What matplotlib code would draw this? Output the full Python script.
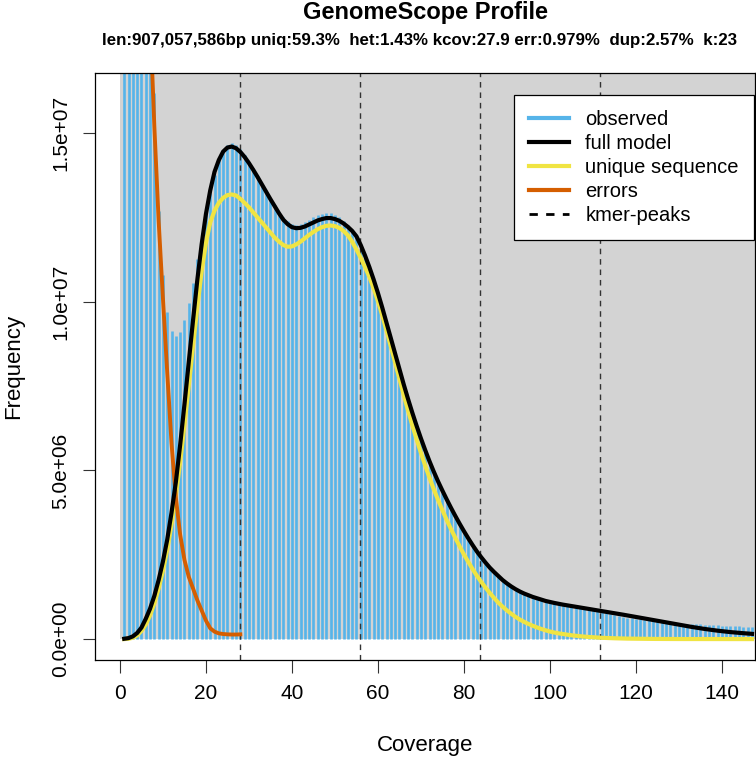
import matplotlib
matplotlib.use('Agg')

import matplotlib.pyplot as plt
from matplotlib.patches import Rectangle
from matplotlib.lines import Line2D

plt.rcParams['font.family'] = ['Liberation Sans', 'DejaVu Sans']

# --- data (coverage 1..147) ---
coverage = list(range(1, 148))

observed = [
    6.2e8, 9.5e7, 4.6e7, 3.2e7, 2.6e7, 2.2e7, 1.9e7, 1.62e7, 1.27e7, 1.08e7,
    9.7e6, 9.13e6, 8.98e6, 9.1e6, 9.46e6, 9.96e6, 1.055e7, 1.126e7, 1.192e7, 1.263e7,
    1.322e7, 1.375e7, 1.42e7, 1.449e7, 1.464e7, 1.47e7, 1.464e7, 1.452e7, 1.435e7, 1.415e7,
    1.395e7, 1.373e7, 1.35e7, 1.328e7, 1.306e7, 1.286e7, 1.267e7, 1.25e7, 1.238e7, 1.231e7,
    1.228e7, 1.23e7, 1.235e7, 1.242e7, 1.25e7, 1.256e7, 1.261e7, 1.264e7, 1.263e7, 1.258e7,
    1.25e7, 1.24e7, 1.228e7, 1.213e7, 1.195e7, 1.165e7, 1.133e7, 1.098e7, 1.06e7, 1.02e7,
    9.77e6, 9.32e6, 8.86e6, 8.40e6, 7.94e6, 7.49e6, 7.06e6, 6.65e6, 6.26e6, 5.89e6,
    5.54e6, 5.21e6, 4.90e6, 4.61e6, 4.34e6, 4.08e6, 3.83e6, 3.59e6, 3.37e6, 3.15e6,
    2.94e6, 2.75e6, 2.57e6, 2.40e6, 2.24e6, 2.10e6, 1.97e6, 1.85e6, 1.74e6, 1.64e6,
    1.55e6, 1.47e6, 1.40e6, 1.34e6, 1.29e6, 1.24e6, 1.20e6, 1.16e6, 1.12e6, 1.09e6,
    1.06e6, 1.03e6, 1.01e6, 9.9e5, 9.7e5, 9.5e5, 9.3e5, 9.1e5, 8.9e5, 8.6e5,
    8.35e5, 8.0e5, 7.7e5, 7.4e5, 7.1e5, 6.8e5, 6.55e5, 6.35e5, 6.15e5, 6.0e5,
    5.85e5, 5.7e5, 5.55e5, 5.4e5, 5.25e5, 5.1e5, 4.95e5, 4.85e5, 4.75e5, 4.65e5,
    4.6e5, 4.55e5, 4.5e5, 4.45e5, 4.4e5, 4.3e5, 4.2e5, 4.15e5, 4.1e5, 4.0e5,
    3.95e5, 3.9e5, 3.8e5, 3.75e5, 3.7e5, 3.65e5, 3.6e5,
]

full_model = [
    1.0e4, 3.0e4, 8.0e4, 1.8e5, 3.4e5, 6.0e5, 9.0e5, 1.28e6, 1.75e6, 2.3e6,
    2.95e6, 3.75e6, 4.65e6, 5.75e6, 6.95e6, 8.2e6, 9.45e6, 1.065e7, 1.17e7, 1.26e7,
    1.33e7, 1.385e7, 1.42e7, 1.445e7, 1.457e7, 1.46e7, 1.455e7, 1.444e7, 1.429e7, 1.411e7,
    1.391e7, 1.37e7, 1.348e7, 1.326e7, 1.304e7, 1.283e7, 1.262e7, 1.243e7, 1.23e7, 1.221e7,
    1.218e7, 1.219e7, 1.223e7, 1.229e7, 1.235e7, 1.241e7, 1.245e7, 1.248e7, 1.248e7, 1.245e7,
    1.24e7, 1.232e7, 1.222e7, 1.21e7, 1.194e7, 1.168e7, 1.137e7, 1.103e7, 1.066e7, 1.026e7,
    9.83e6, 9.38e6, 8.92e6, 8.46e6, 8.00e6, 7.55e6, 7.12e6, 6.71e6, 6.32e6, 5.95e6,
    5.60e6, 5.27e6, 4.96e6, 4.67e6, 4.40e6, 4.14e6, 3.89e6, 3.65e6, 3.42e6, 3.20e6,
    2.99e6, 2.79e6, 2.60e6, 2.43e6, 2.27e6, 2.12e6, 1.99e6, 1.87e6, 1.75e6, 1.65e6,
    1.56e6, 1.48e6, 1.41e6, 1.35e6, 1.30e6, 1.25e6, 1.21e6, 1.17e6, 1.13e6, 1.10e6,
    1.072e6, 1.046e6, 1.022e6, 1.0e6, 9.79e5, 9.58e5, 9.37e5, 9.16e5, 8.95e5, 8.74e5,
    8.53e5, 8.32e5, 8.11e5, 7.9e5, 7.68e5, 7.46e5, 7.24e5, 7.02e5, 6.8e5, 6.57e5,
    6.34e5, 6.11e5, 5.88e5, 5.65e5, 5.42e5, 5.19e5, 4.96e5, 4.73e5, 4.5e5, 4.27e5,
    4.04e5, 3.82e5, 3.6e5, 3.39e5, 3.19e5, 3.0e5, 2.82e5, 2.65e5, 2.49e5, 2.34e5,
    2.2e5, 2.07e5, 1.95e5, 1.84e5, 1.74e5, 1.64e5, 1.55e5,
]

unique_seq = [
    0.0, 1e4, 4e4, 1.1e5, 2.4e5, 4.3e5, 7.0e5, 1.06e6, 1.5e6, 2.03e6,
    2.65e6, 3.4e6, 4.25e6, 5.25e6, 6.35e6, 7.5e6, 8.7e6, 9.85e6, 1.09e7, 1.175e7,
    1.235e7, 1.27e7, 1.293e7, 1.308e7, 1.316e7, 1.318e7, 1.315e7, 1.305e7, 1.293e7, 1.28e7,
    1.265e7, 1.25e7, 1.235e7, 1.22e7, 1.205e7, 1.19e7, 1.178e7, 1.168e7, 1.163e7, 1.164e7,
    1.17e7, 1.178e7, 1.188e7, 1.198e7, 1.207e7, 1.215e7, 1.221e7, 1.225e7, 1.226e7, 1.224e7,
    1.219e7, 1.21e7, 1.197e7, 1.178e7, 1.155e7, 1.13e7, 1.103e7, 1.074e7, 1.04e7, 1.002e7,
    9.6e6, 9.15e6, 8.68e6, 8.2e6, 7.72e6, 7.24e6, 6.78e6, 6.34e6, 5.92e6, 5.52e6,
    5.14e6, 4.78e6, 4.44e6, 4.12e6, 3.82e6, 3.53e6, 3.26e6, 3.00e6, 2.75e6, 2.51e6,
    2.29e6, 2.08e6, 1.88e6, 1.70e6, 1.53e6, 1.37e6, 1.22e6, 1.08e6, 9.6e5, 8.5e5,
    7.5e5, 6.6e5, 5.8e5, 5.1e5, 4.5e5, 3.95e5, 3.45e5, 3.0e5, 2.6e5, 2.25e5,
    1.95e5, 1.7e5, 1.5e5, 1.3e5, 1.13e5, 9.8e4, 8.5e4, 7.3e4, 6.3e4, 5.4e4,
    4.6e4, 3.9e4, 3.3e4, 2.8e4, 2.4e4, 2.0e4, 1.7e4, 1.4e4, 1.2e4, 1.0e4,
    8e3, 7e3, 6e3, 5e3, 4e3, 3.5e3, 3e3, 2.5e3, 2e3, 1.7e3,
    1.4e3, 1.2e3, 1e3, 800, 700, 600, 500, 400, 350, 300,
    250, 200, 170, 140, 120, 100, 80,
]

error_cov = list(range(1, 29))
errors = [
    8.0e8, 1.4e8, 6.5e7, 4.0e7, 2.9e7, 2.3e7, 1.85e7, 1.52e7, 1.24e7, 1.01e7,
    7.9e6, 5.8e6, 4.2e6, 3.1e6, 2.35e6, 1.85e6, 1.5e6, 1.15e6, 8.5e5, 5.5e5,
    3.2e5, 2.2e5, 1.7e5, 1.5e5, 1.4e5, 1.35e5, 1.35e5, 1.4e5,
]

kcov = 27.9
kmer_peaks = [kcov * 1, kcov * 2, kcov * 3, kcov * 4]

yticks = [0, 5e6, 1e7, 1.5e7]
ytick_labels = ["0.0e+00", "5.0e+06", "1.0e+07", "1.5e+07"]
xticks = [0, 20, 40, 60, 80, 100, 120, 140]

title = "GenomeScope Profile"
subtitle = "len:907,057,586bp uniq:59.3%  het:1.43% kcov:27.9 err:0.979%  dup:2.57%  k:23"

COL_OBS = "#56B4E9"
COL_ERR = "#D55E00"
COL_UNIQ = "#F0E442"

fig = plt.figure(figsize=(7.56, 7.58), dpi=100)
ax = fig.add_axes([95 / 756, 98 / 758, 660 / 756, 587 / 758])

xmin, xmax = -5.8, 147.7
ymin, ymax = -6.2e5, 1.678e7
ax.set_xlim(xmin, xmax)
ax.set_ylim(ymin, ymax)

# grey plotting region (data range only)
ax.add_patch(Rectangle((0, 0), xmax + 10, ymax * 2, facecolor="#D3D3D3",
                       edgecolor="none", zorder=0))

ax.vlines(coverage, 0, observed, colors=COL_OBS, linewidth=1.9, zorder=1,
          capstyle='butt')

for p in kmer_peaks:
    ax.axvline(p, color="#333333", linestyle=(0, (4, 3.5)), linewidth=1.0, zorder=2)

ax.plot(coverage, full_model, color="black", linewidth=3.0, zorder=4)
ax.plot(coverage, unique_seq, color=COL_UNIQ, linewidth=3.0, zorder=3)
ax.plot(error_cov, errors, color=COL_ERR, linewidth=2.8, zorder=3)

# axes styling
for s in ax.spines.values():
    s.set_color("black")
    s.set_linewidth(0.9)
    s.set_zorder(5)

ax.set_xticks(xticks)
ax.set_yticks(yticks)
ax.set_yticklabels(ytick_labels, rotation=90, va='center')
ax.tick_params(axis='both', direction='out', length=9, width=0.8, labelsize=15,
               colors="#333333", labelcolor="black")
ax.tick_params(axis='x', pad=8)
ax.tick_params(axis='y', pad=9)

ax.set_xlabel("Coverage", fontsize=16)
ax.set_ylabel("Frequency", fontsize=16)
ax.xaxis.set_label_coords(0.5, -0.128)
ax.yaxis.set_label_coords(-0.108, 0.5)

fig.text(425 / 756, 1 - 13 / 758, title, ha='center', va='center',
         fontsize=17, fontweight='bold')
fig.text(420 / 756, 1 - 41 / 758, subtitle, ha='center', va='center',
         fontsize=12.2, fontweight='bold')

handles = [
    Line2D([], [], color=COL_OBS, linewidth=3),
    Line2D([], [], color="black", linewidth=3),
    Line2D([], [], color=COL_UNIQ, linewidth=3),
    Line2D([], [], color=COL_ERR, linewidth=3),
    Line2D([], [], color="black", linewidth=2, linestyle=(0, (3, 3))),
]
labels = ["observed", "full model", "unique sequence", "errors", "kmer-peaks"]
leg = ax.legend(handles, labels, loc='upper right', bbox_to_anchor=(0.9985, 0.9625),
                borderaxespad=0, fontsize=14.5, frameon=True, fancybox=False,
                handlelength=2.0, handletextpad=0.8, labelspacing=0.25,
                borderpad=0.75)
leg.get_frame().set_edgecolor("black")
leg.get_frame().set_linewidth(0.9)
leg.get_frame().set_facecolor("white")
leg.get_frame().set_alpha(1)
leg.set_zorder(6)

fig.savefig("out.png", dpi=100)
plt.close(fig)
